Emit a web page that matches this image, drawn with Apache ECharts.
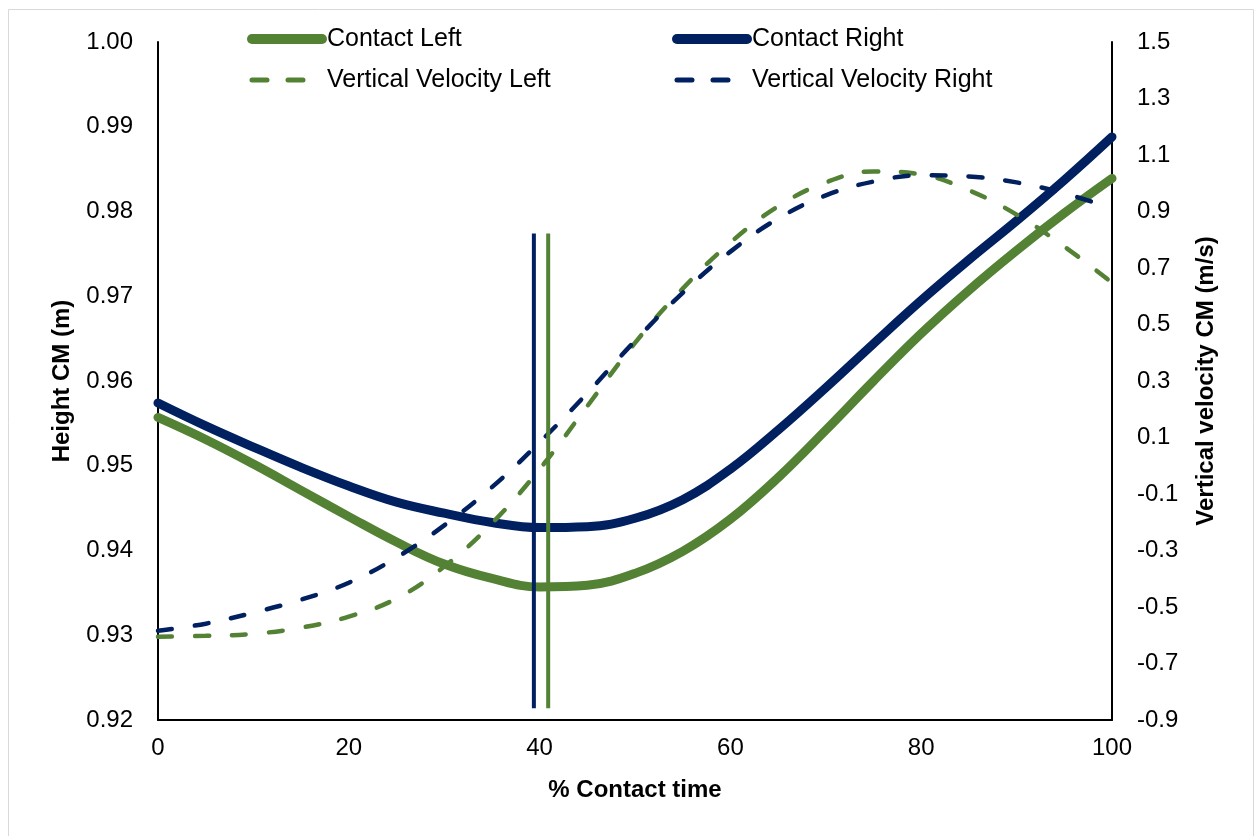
<!DOCTYPE html>
<html>
<head>
<meta charset="utf-8">
<script src="https://cdn.jsdelivr.net/npm/echarts@6/dist/echarts.min.js"></script>
<style>
  html, body { margin: 0; padding: 0; background: #fff; }
  #chart { width: 1255px; height: 836px; }
</style>
</head>
<body>
<div id="chart"></div>
<script>
// % of contact time
const timePct = [0, 5, 10, 15, 20, 25, 30, 35, 40, 45, 50, 55, 60, 65, 70, 75, 80, 85, 90, 95, 100];

// height of the centre of mass (m), left axis
const contactLeft = [0.9557, 0.9531, 0.9502, 0.9471, 0.9440, 0.9410, 0.9384, 0.9367, 0.9357, 0.9359, 0.9373,
    0.9399, 0.9437, 0.9486, 0.9542, 0.9600, 0.9656, 0.9707, 0.9754, 0.9798, 0.9839];
const contactRight = [0.9574, 0.9547, 0.9522, 0.9498, 0.9476, 0.9457, 0.9444, 0.9433, 0.9427, 0.9428, 0.9438,
    0.9460, 0.9496, 0.9542, 0.9592, 0.9644, 0.9695, 0.9743, 0.9789, 0.9837, 0.9888];

// vertical velocity of the centre of mass (m/s), right axis
const velocityLeft = [-0.605, -0.602, -0.595, -0.573, -0.534, -0.470, -0.357, -0.204, -0.012, 0.211, 0.435,
    0.627, 0.790, 0.918, 1.003, 1.042, 1.031, 0.975, 0.889, 0.776, 0.648];
const velocityRight = [-0.584, -0.559, -0.520, -0.474, -0.414, -0.325, -0.211, -0.076, 0.083, 0.257, 0.442,
    0.612, 0.758, 0.875, 0.957, 1.006, 1.028, 1.024, 1.003, 0.964, 0.911];

// vertical markers (minimum height instants) drawn against the left axis
const markerLeftTime = [40.9, 40.9];
const markerRightTime = [39.4, 39.4];
const markerSpan = [0.9214, 0.9774];

const leftTicks = [0.92, 0.93, 0.94, 0.95, 0.96, 0.97, 0.98, 0.99, 1.00];
const rightTicks = [-0.9, -0.7, -0.5, -0.3, -0.1, 0.1, 0.3, 0.5, 0.7, 0.9, 1.1, 1.3, 1.5];

const GREEN = '#548235';
const NAVY = '#002060';
const FONT = 'Arial, "Liberation Sans", sans-serif';

const pairs = (xs, ys) => xs.map((x, i) => [x, ys[i]]);

const chart = echarts.init(document.getElementById('chart'));

const axisText = { color: '#000', fontFamily: FONT, fontSize: 24 };
const nameText = { color: '#000', fontFamily: FONT, fontSize: 24, fontWeight: 'bold' };
const legendText = { color: '#000', fontFamily: FONT, fontSize: 25, lineHeight: 30 };

// legend entries: solid = thick line, dashed = two short dashes, marker hidden
const solidKey = name => ({ name, lineStyle: { width: 10, cap: 'round' } });
const dashKey = name => ({ name, lineStyle: { width: 5, type: [15, 21], cap: 'round' } });

const legendBox = (left, names) => ({
    orient: 'vertical',
    left: left,
    top: 19,
    itemWidth: 70,
    itemHeight: 20,
    itemGap: 11,
    itemStyle: { opacity: 0 },
    textStyle: legendText,
    data: names
});

chart.setOption({
    animation: false,
    backgroundColor: '#fff',
    graphic: [{
        type: 'rect',
        shape: { x: 8.5, y: 9.5, width: 1245, height: 840 },
        style: { fill: 'none', stroke: '#d9d9d9', lineWidth: 1 },
        silent: true
    }],
    legend: [
        legendBox(242, [solidKey('Contact Left'), dashKey('Vertical Velocity Left')]),
        legendBox(667, [solidKey('Contact Right'), dashKey('Vertical Velocity Right')])
    ],
    grid: { left: 158, right: 143, top: 42, bottom: 116 },
    xAxis: {
        type: 'value',
        min: 0,
        max: 100,
        interval: 20,
        name: '% Contact time',
        nameLocation: 'middle',
        nameGap: 58,
        nameTextStyle: nameText,
        axisLine: { onZero: false, lineStyle: { color: '#000', width: 2 } },
        axisTick: { show: false },
        splitLine: { show: false },
        axisLabel: Object.assign({ margin: 16 }, axisText)
    },
    yAxis: [{
        type: 'value',
        position: 'left',
        min: 0.92,
        max: 1.00,
        name: 'Height CM (m)',
        nameLocation: 'middle',
        nameGap: 84,
        nameTextStyle: nameText,
        axisLine: { show: true, onZero: false, lineStyle: { color: '#000', width: 2 } },
        axisTick: { show: false },
        splitLine: { show: false },
        axisLabel: Object.assign({
            margin: 25,
            customValues: leftTicks,
            formatter: v => v.toFixed(2)
        }, axisText)
    }, {
        type: 'value',
        position: 'right',
        min: -0.9,
        max: 1.5,
        name: 'Vertical velocity CM (m/s)',
        nameLocation: 'middle',
        nameRotate: 90,
        nameGap: 82,
        nameTextStyle: nameText,
        axisLine: { show: true, onZero: false, lineStyle: { color: '#000', width: 2 } },
        axisTick: { show: false },
        splitLine: { show: false },
        axisLabel: Object.assign({
            margin: 25,
            customValues: rightTicks,
            formatter: v => v.toFixed(1)
        }, axisText)
    }],
    series: [{
        name: 'Contact Left',
        type: 'line',
        yAxisIndex: 0,
        smooth: 0.4,
        showSymbol: false,
        symbol: 'none',
        color: GREEN,
        lineStyle: { color: GREEN, width: 9, cap: 'round' },
        data: pairs(timePct, contactLeft)
    }, {
        name: 'Contact Right',
        type: 'line',
        yAxisIndex: 0,
        smooth: 0.4,
        showSymbol: false,
        symbol: 'none',
        color: NAVY,
        lineStyle: { color: NAVY, width: 9, cap: 'round' },
        data: pairs(timePct, contactRight)
    }, {
        name: 'Vertical Velocity Left',
        type: 'line',
        yAxisIndex: 1,
        smooth: 0.4,
        showSymbol: false,
        symbol: 'none',
        color: GREEN,
        lineStyle: { color: GREEN, width: 4.5, type: [14, 23], cap: 'round' },
        data: pairs(timePct, velocityLeft)
    }, {
        name: 'Vertical Velocity Right',
        type: 'line',
        yAxisIndex: 1,
        smooth: 0.4,
        showSymbol: false,
        symbol: 'none',
        color: NAVY,
        lineStyle: { color: NAVY, width: 4.5, type: [14, 23], cap: 'round' },
        data: pairs(timePct, velocityRight)
    }, {
        name: 'Min Left',
        type: 'line',
        yAxisIndex: 0,
        showSymbol: false,
        symbol: 'none',
        lineStyle: { color: GREEN, width: 4 },
        data: pairs(markerLeftTime, markerSpan)
    }, {
        name: 'Min Right',
        type: 'line',
        yAxisIndex: 0,
        showSymbol: false,
        symbol: 'none',
        lineStyle: { color: NAVY, width: 4 },
        data: pairs(markerRightTime, markerSpan)
    }]
});

window.addEventListener('resize', () => chart.resize());
</script>
</body>
</html>
